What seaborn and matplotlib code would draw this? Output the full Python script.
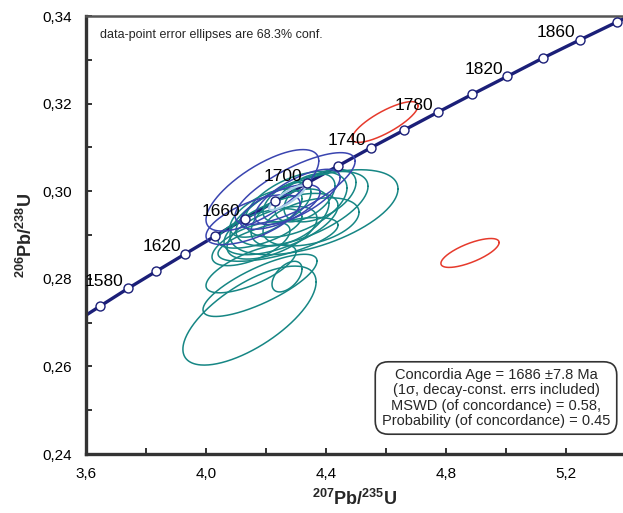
import numpy as np
import pandas as pd
import matplotlib
matplotlib.use("Agg")
import matplotlib.pyplot as plt
import seaborn as sns
from matplotlib.ticker import FixedLocator, FuncFormatter

# ---------------- data ----------------
# concordia marker ages (Ma) and their ratio coordinates
conc_age = [1540, 1560, 1580, 1600, 1620, 1640, 1660, 1680, 1700, 1720,
            1740, 1760, 1780, 1800, 1820, 1840, 1860, 1880, 1900]
conc_x = [3.557, 3.648, 3.740, 3.834, 3.931, 4.029, 4.129, 4.231, 4.335, 4.441,
          4.549, 4.659, 4.772, 4.887, 5.004, 5.123, 5.245, 5.369, 5.496]
conc_y = [0.2698, 0.2738, 0.2778, 0.2817, 0.2857, 0.2897, 0.2937, 0.2977, 0.3018, 0.3058,
          0.3099, 0.3139, 0.3180, 0.3221, 0.3262, 0.3304, 0.3345, 0.3386, 0.3428]
label_ages = [1580, 1620, 1660, 1700, 1740, 1780, 1820, 1860]

# error ellipses: centre x, centre y, half-range x, half-range y, correlation
teal_x0 = [4.145, 4.180, 4.270, 4.150, 4.360, 4.320, 4.300, 4.250, 4.220, 4.280,
           4.200, 4.330, 4.240, 4.180, 4.350, 4.270, 4.150, 4.380]
teal_y0 = [0.2716, 0.2785, 0.2805, 0.2823, 0.2952, 0.2960, 0.2970, 0.2925, 0.2905, 0.2940,
           0.2950, 0.2985, 0.2890, 0.2915, 0.2930, 0.2975, 0.2880, 0.2990]
teal_a = [0.222, 0.190, 0.050, 0.150, 0.280, 0.220, 0.170, 0.190, 0.150, 0.130,
          0.120, 0.100, 0.200, 0.140, 0.160, 0.080, 0.130, 0.120]
teal_b = [0.0113, 0.0071, 0.0035, 0.0055, 0.0097, 0.0085, 0.0075, 0.0070, 0.0060, 0.0065,
          0.0055, 0.0055, 0.0050, 0.0045, 0.0055, 0.0045, 0.0050, 0.0060]
teal_r = [0.68, 0.78, 0.50, 0.70, 0.55, 0.60, 0.50, 0.60, 0.55, 0.50,
          0.60, 0.50, 0.65, 0.60, 0.40, 0.50, 0.60, 0.50]

blue_x0 = [4.188, 4.297, 4.157, 4.247, 4.305]
blue_y0 = [0.3002, 0.3006, 0.2935, 0.2964, 0.2987]
blue_a = [0.188, 0.200, 0.157, 0.133, 0.142]
blue_b = [0.0093, 0.0082, 0.0057, 0.0051, 0.0063]
blue_r = [0.72, 0.76, 0.65, 0.65, 0.70]

red_x0 = [4.597, 4.880]
red_y0 = [0.3158, 0.2859]
red_a = [0.110, 0.097]
red_b = [0.00465, 0.0033]
red_r = [0.80, 0.72]

mean_x0 = [4.270]
mean_y0 = [0.2985]
mean_a = [0.060]
mean_b = [0.0028]
mean_r = [0.85]

x_ticks = [3.6, 4.0, 4.4, 4.8, 5.2]
y_ticks = [0.24, 0.26, 0.28, 0.30, 0.32, 0.34]

box_text = ("Concordia Age = 1686 \u00b17.8 Ma\n"
            "(1\u03c3, decay-const. errs included)\n"
            "MSWD (of concordance) = 0.58,\n"
            "Probability (of concordance) = 0.45")
note_text = "data-point error ellipses are 68.3% conf."

# ---------------- style ----------------
sns.set_style("white")
plt.rcParams["font.family"] = ["Liberation Sans", "DejaVu Sans"]
plt.rcParams["mathtext.fontset"] = "custom"
plt.rcParams["mathtext.rm"] = "Liberation Sans"
plt.rcParams["mathtext.bf"] = "Liberation Sans:bold"

NAVY = "#1b1f78"
BLUE = "#3a45b0"
TEAL = "#168684"
RED = "#e63a2c"
LIGHT = "#a9cfe8"

fig = plt.figure(figsize=(6.23, 5.13), dpi=100)
ax = fig.add_axes([86 / 623, 59 / 513, 537 / 623, 438 / 513])

t = np.linspace(0, 2 * np.pi, 240)


def draw_ellipses(x0s, y0s, as_, bs, rs, color, lw=1.1, z=3):
    for x0, y0, a, b, r in zip(x0s, y0s, as_, bs, rs):
        xs = x0 + a * np.cos(t)
        ys = y0 + b * (r * np.cos(t) + np.sqrt(1 - r * r) * np.sin(t))
        ax.plot(xs, ys, color=color, lw=lw, zorder=z)


draw_ellipses(teal_x0, teal_y0, teal_a, teal_b, teal_r, TEAL, z=3)
draw_ellipses(blue_x0, blue_y0, blue_a, blue_b, blue_r, BLUE, z=3.5)
draw_ellipses(red_x0, red_y0, red_a, red_b, red_r, RED, z=3)
draw_ellipses(mean_x0, mean_y0, mean_a, mean_b, mean_r, LIGHT, lw=1.6, z=3.6)

conc = pd.DataFrame({"age": conc_age, "x": conc_x, "y": conc_y})
sns.lineplot(data=conc, x="x", y="y", sort=False, estimator=None,
             color=NAVY, lw=2.4, ax=ax, zorder=2.5)
sns.scatterplot(data=conc, x="x", y="y", s=42, color="white",
                edgecolor=NAVY, linewidth=1.0, ax=ax, zorder=5)

for age in label_ages:
    i = conc_age.index(age)
    ax.annotate(str(age), (conc_x[i], conc_y[i]), xytext=(-3, 2),
                textcoords="offset points", ha="right", va="baseline",
                fontsize=12.5, color="black", zorder=6)

ax.set_xlim(3.6, 3.6 + 537 / 300)
ax.set_ylim(0.24, 0.34)

ax.xaxis.set_major_locator(FixedLocator(x_ticks))
ax.yaxis.set_major_locator(FixedLocator(y_ticks))
ax.xaxis.set_minor_locator(FixedLocator([v + 0.2 for v in x_ticks]))
ax.yaxis.set_minor_locator(FixedLocator([v + 0.01 for v in y_ticks]))
ax.xaxis.set_major_formatter(FuncFormatter(lambda v, p: f"{v:.1f}".replace(".", ",")))
ax.yaxis.set_major_formatter(FuncFormatter(lambda v, p: f"{v:.2f}".replace(".", ",")))

ax.tick_params(which="both", direction="in", length=4, width=1.4, color="#333333",
               labelsize=11, labelcolor="black")
ax.tick_params(axis="x", which="both", pad=9, top=False, bottom=True)
ax.tick_params(axis="y", which="both", pad=10, right=False, left=True)

for side in ["left", "bottom"]:
    ax.spines[side].set_color("#333333")
    ax.spines[side].set_linewidth(2.4)
ax.spines["top"].set_color("#555555")
ax.spines["top"].set_linewidth(1.8)
ax.spines["right"].set_visible(False)

ax.set_xlabel(r"$\mathbf{{}^{207}Pb/{}^{235}U}$", fontsize=13, labelpad=6)
ax.set_ylabel(r"$\mathbf{{}^{206}Pb/{}^{238}U}$", fontsize=13, labelpad=5)

ax.text((100 - 86) / 537, (454 - 35) / 438, note_text,
        transform=ax.transAxes, fontsize=9, ha="left", va="center")

ax.text((496 - 86) / 537, (454 - 398) / 438, box_text, transform=ax.transAxes,
        fontsize=10.5, ha="center", va="center", linespacing=1.1, zorder=7,
        bbox=dict(boxstyle="round,pad=0.45,rounding_size=0.9", fc="white",
                  ec="#333333", lw=1.2))

fig.savefig("out.png", dpi=100)
